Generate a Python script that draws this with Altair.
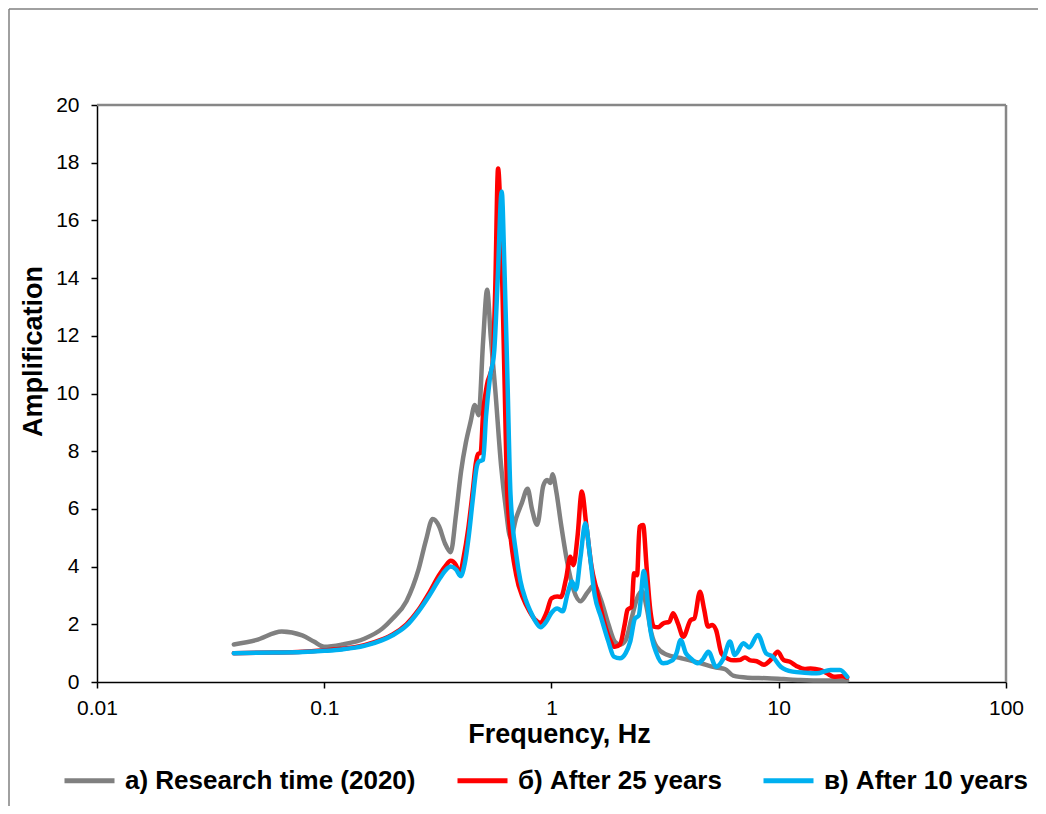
import altair as alt
import pandas as pd

LABELS = ["а) Research time (2020)", "б) After 25 years", "в) After 10 years"]
COLORS = ["#808080", "#FF0000", "#00B0F0"]

f_gray = [0.04, 0.05, 0.065, 0.08, 0.09, 0.1, 0.12, 0.15, 0.18, 0.2, 0.23, 0.26, 0.28, 0.3, 0.32,
          0.34, 0.36, 0.38, 0.4, 0.42, 0.44, 0.46, 0.478, 0.5, 0.521, 0.54, 0.566, 0.6, 0.63, 0.66,
          0.7, 0.74, 0.785, 0.82, 0.865, 0.92, 0.956, 0.99, 1.01, 1.05, 1.1, 1.17, 1.25, 1.34, 1.44,
          1.54, 1.65, 1.78, 1.9, 2.0, 2.12, 2.25, 2.38, 2.5, 2.62, 2.75, 2.9, 3.2, 3.7, 4.5, 5.3,
          5.8, 6.3, 7.3, 8.9, 10.5, 12.4, 16.0, 20.0]
a_gray = [1.3, 1.45, 1.75, 1.62, 1.4, 1.22, 1.3, 1.5, 1.85, 2.2, 2.8, 3.9, 4.9, 5.65, 5.4,
          4.8, 4.5, 5.8, 7.3, 8.3, 9.0, 9.6, 9.25, 11.8, 13.6, 12.0, 10.1, 7.5, 6.0, 5.0,
          5.7, 6.2, 6.7, 6.0, 5.45, 6.8, 7.0, 6.9, 7.2, 6.6, 5.5, 4.2, 3.2, 2.8, 3.1,
          3.35, 2.85, 2.0, 1.4, 1.3, 1.45, 2.2, 2.9, 3.15, 2.6, 1.7, 1.22, 0.95, 0.83, 0.66, 0.5,
          0.45, 0.22, 0.15, 0.13, 0.1, 0.07, 0.05, 0.05]

f_red = [0.04, 0.06, 0.08, 0.1, 0.12, 0.15, 0.18, 0.2, 0.23, 0.26, 0.29, 0.32, 0.34, 0.36, 0.38,
         0.395, 0.41, 0.43, 0.45, 0.465, 0.475, 0.488, 0.5, 0.52, 0.55, 0.565, 0.582, 0.6, 0.62,
         0.64, 0.7, 0.75, 0.8, 0.85, 0.89, 0.95, 1.0, 1.06, 1.1, 1.16, 1.21, 1.25, 1.3, 1.36,
         1.42, 1.5, 1.58, 1.7, 1.8, 1.9, 2.0, 2.1, 2.16, 2.25, 2.31, 2.38, 2.44, 2.53, 2.62,
         2.72, 2.82, 2.95, 3.1, 3.3, 3.43, 3.6, 3.8, 4.1, 4.25, 4.5, 4.7, 4.88, 5.1, 5.3, 5.6,
         6.0, 6.3, 6.7, 7.1, 7.5, 8.0, 8.6, 9.3, 9.9, 10.5, 11.2, 12.0, 13.0, 13.8, 15.2, 16.3,
         17.5, 19.0, 20.0]
a_red = [1.0, 1.02, 1.05, 1.1, 1.15, 1.28, 1.48, 1.65, 2.0, 2.5, 3.1, 3.7, 4.0, 4.2, 4.05,
         3.75, 4.3, 5.3, 6.6, 7.6, 7.9, 7.95, 9.3, 10.3, 11.0, 13.5, 17.8, 15.5, 10.8,
         6.4, 3.7, 2.9, 2.45, 2.15, 2.05, 2.4, 2.9, 2.96, 2.95, 3.6, 4.34, 4.05, 5.0, 6.6,
         5.5, 4.0, 3.19, 2.1, 1.5, 1.22, 1.3, 2.0, 2.5, 2.6, 3.77, 3.7, 5.38, 5.44, 4.0,
         2.5, 1.92, 1.9, 2.03, 2.09, 2.38, 2.03, 1.57, 2.15, 2.2, 3.13, 2.5, 1.92, 1.98, 1.8, 0.99,
         0.8, 0.75, 0.76, 0.85, 0.75, 0.72, 0.6, 0.8, 1.05, 0.76, 0.7, 0.55, 0.45, 0.47, 0.42, 0.3,
         0.18, 0.2, 0.15]

f_blue = [0.04, 0.06, 0.08, 0.1, 0.12, 0.15, 0.18, 0.2, 0.23, 0.26, 0.29, 0.32, 0.34, 0.36, 0.38,
          0.398, 0.415, 0.432, 0.45, 0.47, 0.479, 0.5, 0.515, 0.535, 0.56, 0.58, 0.604, 0.62, 0.64,
          0.66, 0.7, 0.73, 0.77, 0.81, 0.85, 0.895, 0.95, 1.0, 1.06, 1.12, 1.18, 1.23, 1.28, 1.34,
          1.41, 1.47, 1.55, 1.65, 1.78, 1.88, 2.0, 2.12, 2.22, 2.33, 2.42, 2.55, 2.62, 2.7, 2.9,
          3.1, 3.4, 3.55, 3.7, 3.9, 4.1, 4.4, 4.65, 4.9, 5.3, 5.7, 6.1, 6.4, 7.0, 7.4, 8.1, 8.8,
          9.4, 10.2, 11.5, 13.0, 14.7, 16.9, 18.6, 20.0]
a_blue = [1.0, 1.02, 1.04, 1.08, 1.13, 1.25, 1.45, 1.62, 1.95, 2.45, 3.0, 3.55, 3.85, 4.0, 3.9,
          3.67, 4.1, 5.04, 6.3, 7.5, 7.64, 7.7, 9.2, 10.5, 11.5, 14.0, 17.0, 14.5, 10.5,
          6.5, 4.4, 3.5, 2.85, 2.43, 2.1, 1.9, 2.1, 2.4, 2.55, 2.45, 3.1, 3.48, 3.2, 4.3,
          5.5, 4.5, 3.0, 2.26, 1.4, 0.88, 0.82, 1.0, 1.4, 2.2, 2.3, 3.85, 3.2, 2.04, 0.99,
          0.65, 0.75, 1.0, 1.46, 1.0, 0.82, 0.65, 0.8, 1.05, 0.53, 0.8, 1.4, 0.94, 1.34, 1.2, 1.63, 0.99,
          0.88, 0.53, 0.36, 0.32, 0.3, 0.42, 0.42, 0.18]

X_TICKS = [0.01, 0.1, 1, 10, 100]
Y_TICKS = list(range(0, 21, 2))

rows = []
for lab, fs, amps in zip(LABELS, [f_gray, f_red, f_blue], [a_gray, a_red, a_blue]):
    for i, (f, a) in enumerate(zip(fs, amps)):
        rows.append({"series": lab, "f": f, "amp": a, "i": i})
df = pd.DataFrame(rows)

FONT = "Liberation Sans"

lines = alt.Chart(df).mark_line(interpolate="monotone", strokeCap="round", strokeJoin="round",
                                strokeWidth=4.5).encode(
    x=alt.X("f:Q", scale=alt.Scale(type="log", domain=[0.01, 100]),
            axis=alt.Axis(values=X_TICKS, format="~g", title="Frequency, Hz", grid=False,
                          tickSize=6, labelPadding=9, labelFlush=False, labelOverlap=False,
                          titleX=462, titleY=39, titleBaseline="top")),
    y=alt.Y("amp:Q", scale=alt.Scale(domain=[0, 20]),
            axis=alt.Axis(values=Y_TICKS, title="Amplification", grid=False, tickSize=6,
                          labelPadding=12, labelFlush=False, labelOverlap=False,
                          titleX=-64, titleY=246, titleAngle=270, titleBaseline="middle",
                          titleAlign="center")),
    color=alt.Color("series:N", scale=alt.Scale(domain=LABELS, range=COLORS),
                    legend=alt.Legend(title=None, orient="none", legendX=-35, legendY=648,
                                      direction="horizontal", symbolType="stroke",
                                      symbolSize=2500, symbolStrokeWidth=5, labelOffset=8,
                                      columnPadding=31, labelLimit=600, padding=0)),
    order="i:Q",
)

one = alt.Data(values=[{}])
frame_top = alt.Chart(one).mark_rule(color="#878787", strokeWidth=2.5).encode(
    x=alt.value(0), x2=alt.value("width"), y=alt.value(0))
frame_right = alt.Chart(one).mark_rule(color="#878787", strokeWidth=2.5).encode(
    x=alt.value("width"), y=alt.value(0), y2=alt.value("height"))
outer_left = alt.Chart(one).mark_rule(color="#808080", strokeWidth=1.5).encode(
    x=alt.value(-88), y=alt.value(-96), y2=alt.value(720))
outer_top = alt.Chart(one).mark_rule(color="#808080", strokeWidth=1.5).encode(
    x=alt.value(-88), x2=alt.value(960), y=alt.value(-96))

chart = alt.layer(lines, frame_top, frame_right, outer_left, outer_top).properties(
    width=909, height=577,
    padding={"left": 89, "top": 97, "right": 32, "bottom": 124},
    autosize="none",
).configure_view(stroke=None).configure_axis(
    labelFont=FONT, labelFontSize=21, labelColor="black",
    titleFont=FONT, titleFontSize=27, titleFontWeight="bold", titleColor="black",
    domainColor="black", domainWidth=1.5, tickColor="black", tickWidth=1.5, zindex=1,
).configure_legend(
    labelFont=FONT, labelFontSize=26, labelFontWeight="bold", labelColor="black",
)

chart.save("out.html", embed_options={"renderer": "svg", "actions": False})
